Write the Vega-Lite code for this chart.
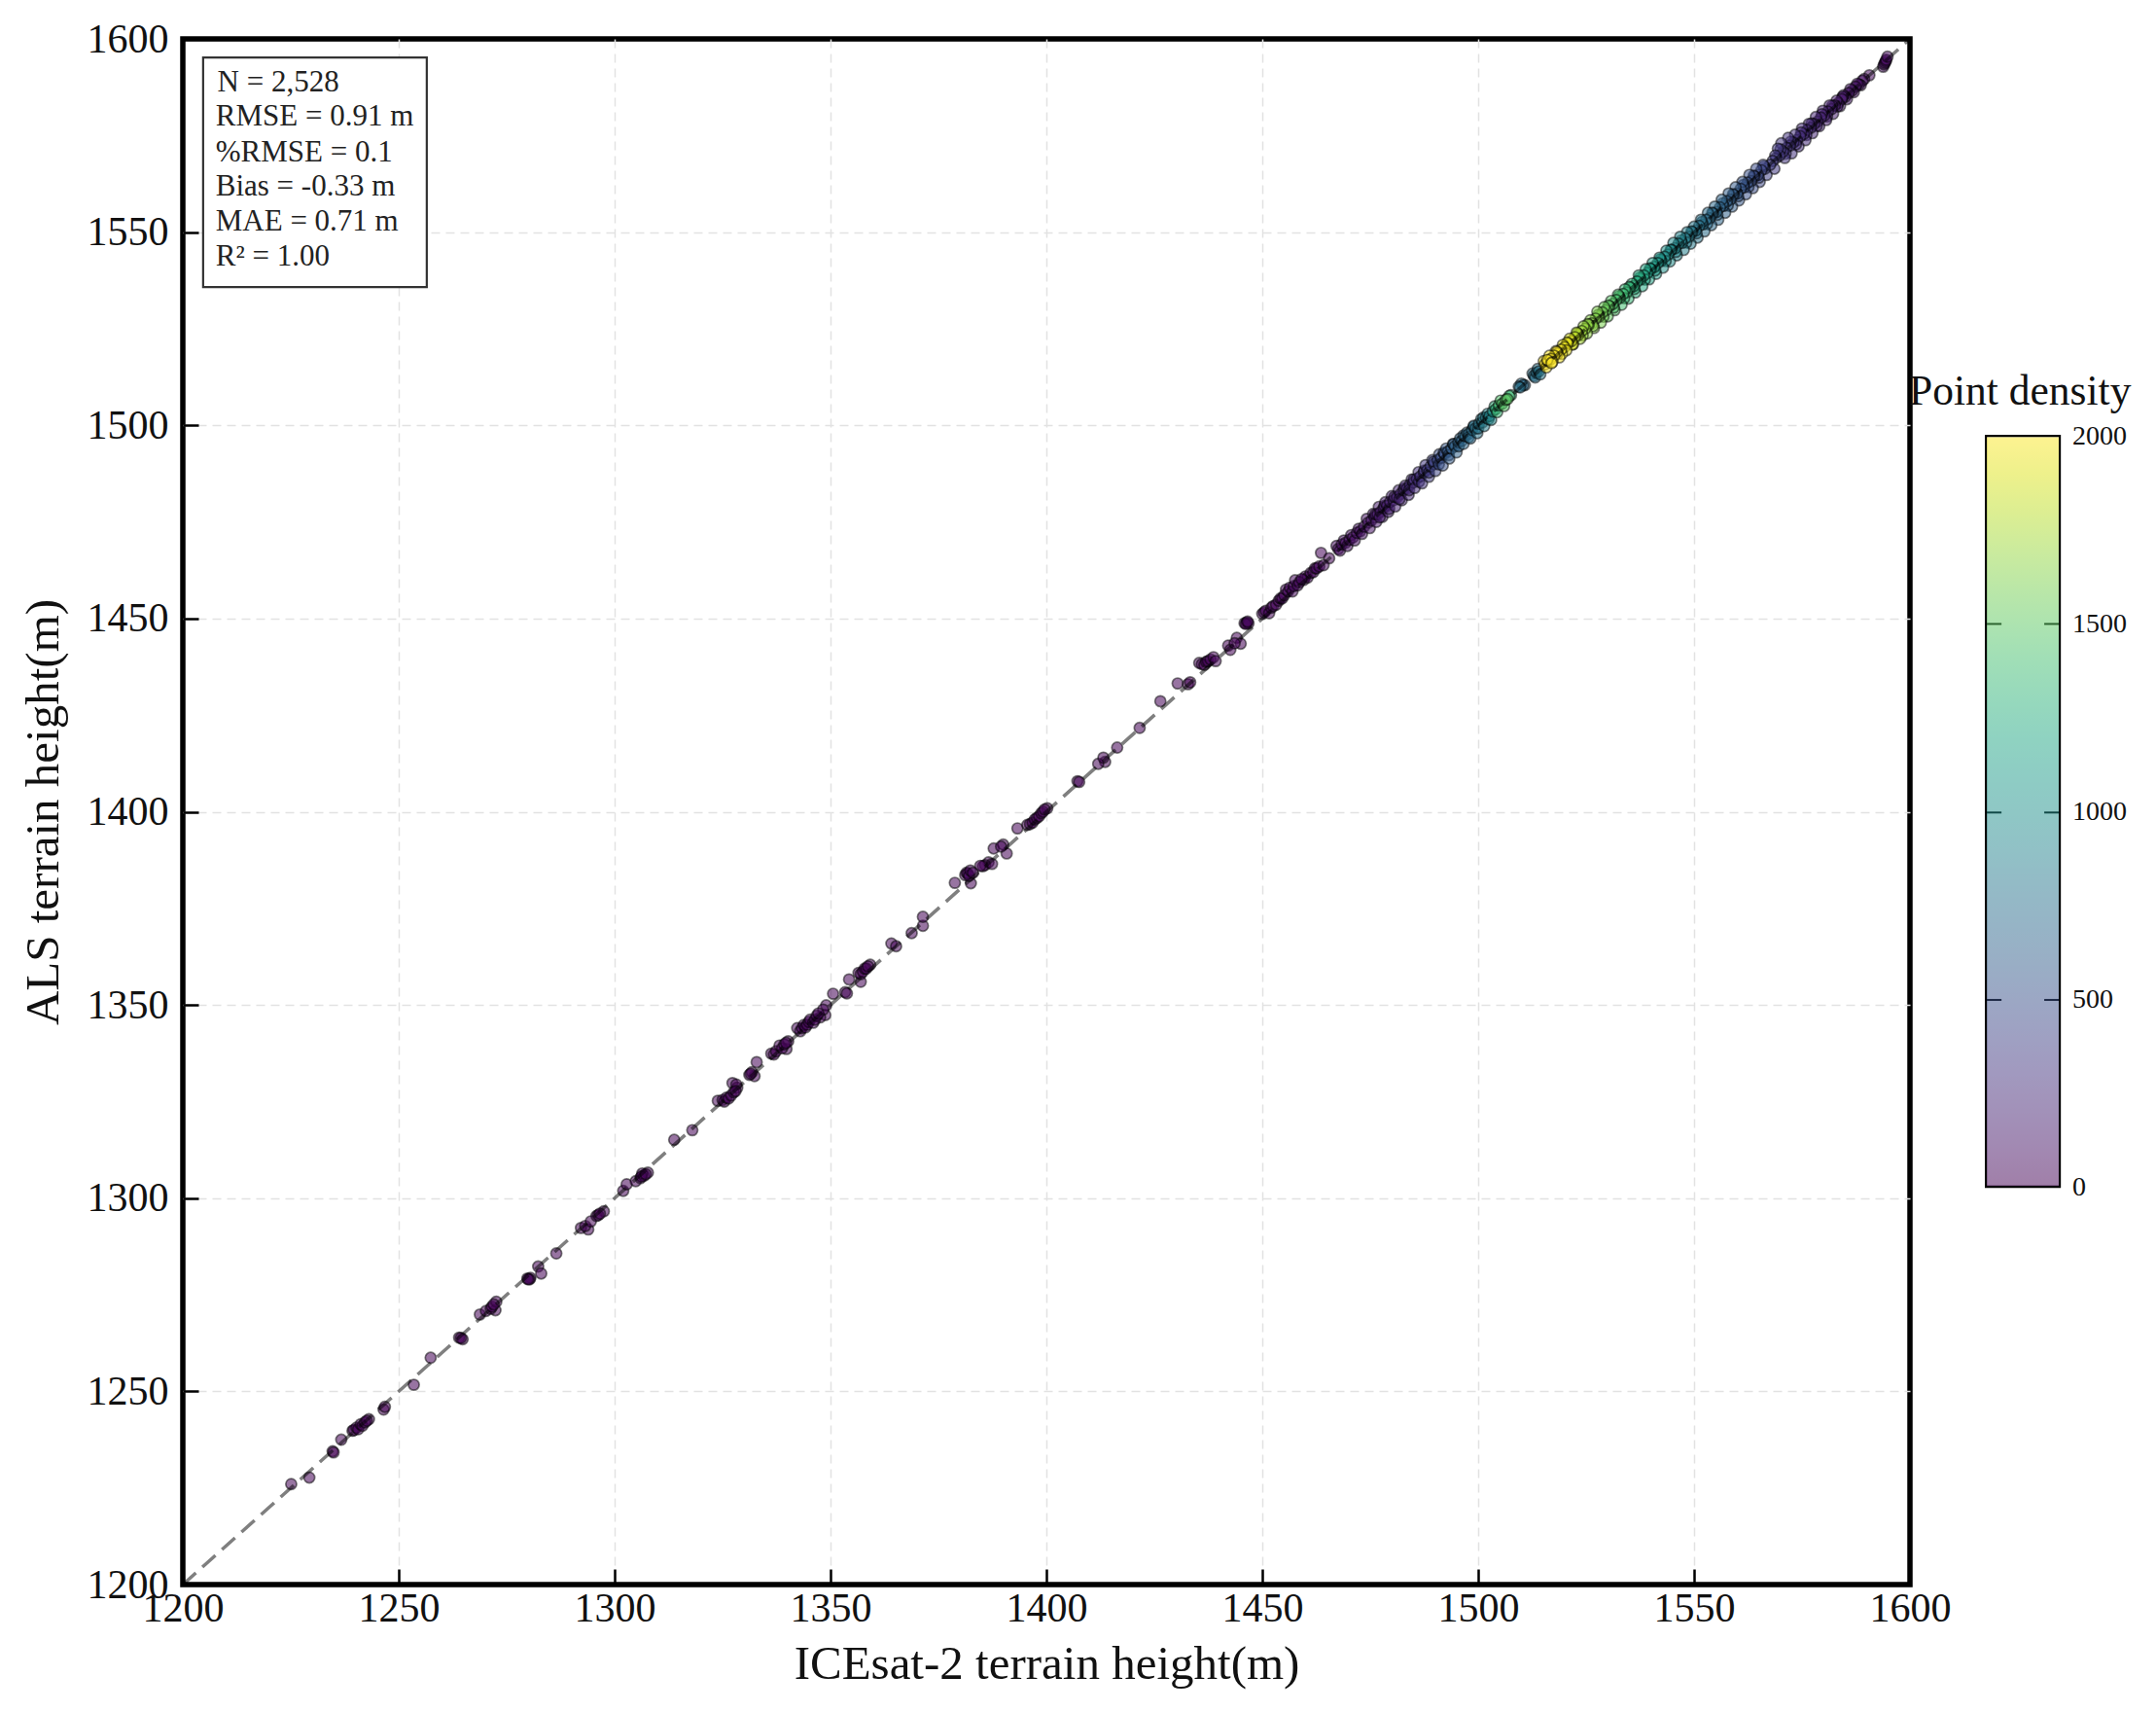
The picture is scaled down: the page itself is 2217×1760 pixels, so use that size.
{
"$schema":"https://vega.github.io/schema/vega-lite/v6.json",
"width":1776,"height":1589,
"autosize":{"type":"none"},
"padding":{"left":188,"top":40,"right":253,"bottom":131},
"background":"white",
"view":{"stroke":"#000000","strokeWidth":5.5,"fill":"white"},
"datasets":{
"pts":[
{"x":1225.1,"y":1226.0,"d":8},{"x":1229.3,"y":1227.7,"d":3},{"x":1234.7,"y":1234.5,"d":12},{"x":1234.9,"y":1234.2,"d":12},{"x":1236.7,"y":1237.5,"d":3},{"x":1239.3,"y":1239.8,"d":20},{"x":1239.6,"y":1240.0,"d":20},{"x":1240.2,"y":1240.6,"d":20},{"x":1240.6,"y":1240.2,"d":20},{"x":1241.2,"y":1241.5,"d":25},{"x":1241.6,"y":1241.1,"d":25},{"x":1242.2,"y":1242.0,"d":25},{"x":1242.6,"y":1242.4,"d":25},{"x":1243.1,"y":1242.8,"d":20},{"x":1246.5,"y":1245.3,"d":12},{"x":1246.8,"y":1246.0,"d":12},{"x":1253.5,"y":1251.7,"d":3},{"x":1257.4,"y":1258.7,"d":3},{"x":1264.0,"y":1263.9,"d":15},{"x":1264.8,"y":1263.5,"d":15},{"x":1264.4,"y":1263.8,"d":15},{"x":1268.8,"y":1269.9,"d":3},{"x":1270.2,"y":1270.8,"d":5},{"x":1271.3,"y":1271.4,"d":15},{"x":1271.6,"y":1271.9,"d":15},{"x":1272.0,"y":1272.5,"d":20},{"x":1272.6,"y":1273.2,"d":15},{"x":1272.4,"y":1271.0,"d":5},{"x":1279.8,"y":1279.2,"d":30},{"x":1280.3,"y":1279.0,"d":30},{"x":1280.5,"y":1279.4,"d":25},{"x":1280.0,"y":1279.0,"d":30},{"x":1282.3,"y":1282.3,"d":3},{"x":1283.0,"y":1280.5,"d":3},{"x":1286.5,"y":1285.7,"d":3},{"x":1292.2,"y":1292.3,"d":10},{"x":1293.9,"y":1291.9,"d":5},{"x":1293.2,"y":1292.8,"d":10},{"x":1294.5,"y":1294.0,"d":12},{"x":1295.8,"y":1295.4,"d":12},{"x":1296.2,"y":1295.6,"d":12},{"x":1296.6,"y":1296.0,"d":12},{"x":1297.5,"y":1296.6,"d":10},{"x":1302.0,"y":1301.9,"d":3},{"x":1302.8,"y":1303.6,"d":3},{"x":1304.9,"y":1304.4,"d":3},{"x":1306.0,"y":1305.2,"d":25},{"x":1306.8,"y":1305.8,"d":25},{"x":1307.7,"y":1306.6,"d":25},{"x":1306.4,"y":1306.4,"d":25},{"x":1306.2,"y":1305.6,"d":25},{"x":1307.2,"y":1306.2,"d":25},
{"x":1313.8,"y":1315.1,"d":3},{"x":1318.0,"y":1317.6,"d":3},{"x":1323.9,"y":1325.2,"d":20},{"x":1325.0,"y":1325.4,"d":20},{"x":1325.4,"y":1325.0,"d":20},{"x":1325.9,"y":1326.0,"d":20},{"x":1326.4,"y":1325.8,"d":20},{"x":1327.0,"y":1326.6,"d":20},{"x":1327.6,"y":1327.4,"d":20},{"x":1328.0,"y":1327.7,"d":20},{"x":1327.3,"y":1329.8,"d":8},{"x":1328.4,"y":1328.6,"d":12},{"x":1328.2,"y":1329.4,"d":12},{"x":1331.2,"y":1331.9,"d":20},{"x":1331.8,"y":1332.6,"d":20},{"x":1331.5,"y":1332.2,"d":20},{"x":1332.4,"y":1331.6,"d":15},{"x":1332.9,"y":1335.2,"d":3},{"x":1336.3,"y":1337.4,"d":15},{"x":1336.9,"y":1337.2,"d":15},{"x":1337.4,"y":1338.0,"d":18},{"x":1338.2,"y":1339.5,"d":18},{"x":1338.8,"y":1338.8,"d":18},{"x":1339.3,"y":1339.8,"d":20},{"x":1339.7,"y":1340.2,"d":20},{"x":1340.2,"y":1340.6,"d":15},{"x":1339.8,"y":1338.6,"d":8},{"x":1342.3,"y":1344.0,"d":25},{"x":1343.0,"y":1343.2,"d":25},{"x":1343.4,"y":1344.0,"d":25},{"x":1343.8,"y":1344.8,"d":25},{"x":1344.2,"y":1344.2,"d":25},{"x":1344.6,"y":1344.9,"d":30},{"x":1345.0,"y":1345.6,"d":30},{"x":1345.3,"y":1346.2,"d":30},{"x":1346.0,"y":1345.4,"d":30},{"x":1346.4,"y":1346.2,"d":30},{"x":1346.8,"y":1347.2,"d":30},{"x":1347.2,"y":1347.8,"d":30},{"x":1347.6,"y":1346.8,"d":20},{"x":1348.3,"y":1348.8,"d":20},{"x":1349.0,"y":1349.9,"d":8},{"x":1348.8,"y":1347.4,"d":5},{"x":1350.6,"y":1352.9,"d":3},{"x":1353.4,"y":1353.3,"d":10},{"x":1353.8,"y":1353.0,"d":10},{"x":1354.3,"y":1356.6,"d":3},{"x":1357.0,"y":1356.0,"d":3},{"x":1356.5,"y":1358.3,"d":20},{"x":1357.0,"y":1358.0,"d":20},{"x":1357.5,"y":1358.6,"d":20},{"x":1357.9,"y":1359.4,"d":20},{"x":1358.3,"y":1359.4,"d":20},{"x":1358.7,"y":1360.0,"d":20},{"x":1359.2,"y":1360.4,"d":15},{"x":1364.1,"y":1365.9,"d":3},{"x":1365.2,"y":1365.2,"d":10},{"x":1368.8,"y":1368.6,"d":3},{"x":1371.4,"y":1370.5,"d":3},{"x":1371.4,"y":1372.8,"d":3},{"x":1378.8,"y":1381.6,"d":3},{"x":1381.2,"y":1383.6,"d":30},{"x":1381.5,"y":1384.2,"d":30},{"x":1381.8,"y":1384.0,"d":35},{"x":1382.1,"y":1383.4,"d":35},{"x":1382.4,"y":1384.8,"d":35},{"x":1383.0,"y":1384.2,"d":35},{"x":1382.5,"y":1381.5,"d":3},{"x":1384.7,"y":1386.0,"d":20},{"x":1385.8,"y":1386.2,"d":18},{"x":1385.3,"y":1385.9,"d":18},{"x":1387.4,"y":1386.5,"d":18},{"x":1386.6,"y":1386.9,"d":15},{"x":1387.8,"y":1390.5,"d":3},{"x":1390.0,"y":1391.5,"d":8},{"x":1390.8,"y":1389.2,"d":3},{"x":1389.5,"y":1391.0,"d":8},{"x":1393.3,"y":1395.7,"d":3},{"x":1395.6,"y":1396.6,"d":15},{"x":1396.2,"y":1396.8,"d":15},{"x":1396.8,"y":1397.2,"d":15},{"x":1397.3,"y":1398.0,"d":15},{"x":1397.8,"y":1398.4,"d":15},{"x":1398.3,"y":1398.8,"d":15},{"x":1398.8,"y":1399.6,"d":20},{"x":1399.2,"y":1400.0,"d":20},{"x":1399.6,"y":1400.6,"d":20},{"x":1400.2,"y":1400.9,"d":15},{"x":1407.2,"y":1407.9,"d":10},{"x":1407.6,"y":1407.7,"d":10},{"x":1412.0,"y":1412.4,"d":10},{"x":1413.2,"y":1414.0,"d":10},{"x":1413.6,"y":1412.9,"d":5},{"x":1416.4,"y":1416.6,"d":3},{"x":1421.6,"y":1421.7,"d":3},{"x":1426.4,"y":1428.6,"d":3},{"x":1430.4,"y":1433.2,"d":3},{"x":1433.3,"y":1433.5,"d":12},{"x":1432.8,"y":1433.0,"d":10},{"x":1435.4,"y":1438.5,"d":20},{"x":1436.0,"y":1438.2,"d":20},{"x":1436.6,"y":1438.0,"d":22},{"x":1437.0,"y":1438.8,"d":22},{"x":1437.4,"y":1439.0,"d":25},{"x":1438.0,"y":1439.4,"d":25},{"x":1438.7,"y":1440.0,"d":25},{"x":1439.2,"y":1439.0,"d":25},{"x":1442.1,"y":1443.0,"d":3},{"x":1444.1,"y":1445.0,"d":3},{"x":1442.6,"y":1441.9,"d":3},{"x":1445.0,"y":1443.5,"d":3},{"x":1443.6,"y":1443.6,"d":3},{"x":1445.9,"y":1448.8,"d":35},{"x":1446.4,"y":1449.0,"d":35},{"x":1446.8,"y":1448.7,"d":35},{"x":1446.2,"y":1448.6,"d":35},{"x":1446.6,"y":1449.2,"d":35},
{"x":1450.0,"y":1451.2,"d":25},{"x":1450.4,"y":1451.6,"d":25},{"x":1450.8,"y":1452.0,"d":25},{"x":1451.6,"y":1451.4,"d":25},{"x":1452.1,"y":1452.8,"d":30},{"x":1452.5,"y":1453.2,"d":30},{"x":1453.2,"y":1453.6,"d":30},{"x":1453.8,"y":1454.6,"d":30},{"x":1454.2,"y":1455.2,"d":30},{"x":1454.6,"y":1455.2,"d":35},{"x":1455.1,"y":1456.0,"d":35},{"x":1455.5,"y":1457.5,"d":35},{"x":1456.0,"y":1457.0,"d":40},{"x":1456.4,"y":1458.0,"d":40},{"x":1457.0,"y":1457.0,"d":40},{"x":1457.3,"y":1458.4,"d":40},{"x":1457.6,"y":1459.9,"d":40},{"x":1458.2,"y":1458.6,"d":40},{"x":1458.6,"y":1459.4,"d":40},{"x":1459.1,"y":1460.2,"d":40},{"x":1459.6,"y":1460.0,"d":35},{"x":1460.0,"y":1460.9,"d":35},{"x":1460.5,"y":1460.6,"d":35},{"x":1461.2,"y":1461.8,"d":35},{"x":1461.8,"y":1462.0,"d":35},{"x":1462.2,"y":1463.0,"d":35},{"x":1462.6,"y":1463.0,"d":40},{"x":1463.2,"y":1463.5,"d":40},{"x":1463.6,"y":1467.0,"d":3},{"x":1464.2,"y":1463.8,"d":40},{"x":1465.5,"y":1465.6,"d":10},
{"x":1467.2,"y":1468.8,"d":60},{"x":1467.6,"y":1468.0,"d":60},{"x":1468.0,"y":1467.6,"d":60},{"x":1468.4,"y":1469.2,"d":65},{"x":1468.9,"y":1470.2,"d":70},{"x":1469.3,"y":1469.6,"d":70},{"x":1469.7,"y":1468.8,"d":70},{"x":1470.2,"y":1470.4,"d":75},{"x":1470.6,"y":1471.6,"d":80},{"x":1471.0,"y":1471.0,"d":80},{"x":1471.4,"y":1470.2,"d":80},{"x":1471.9,"y":1472.2,"d":85},{"x":1472.3,"y":1473.2,"d":90},{"x":1472.7,"y":1472.6,"d":90},{"x":1473.1,"y":1471.9,"d":90},{"x":1473.6,"y":1473.8,"d":100},{"x":1474.2,"y":1475.8,"d":110},{"x":1474.5,"y":1474.8,"d":110},{"x":1474.9,"y":1473.4,"d":110},{"x":1475.3,"y":1475.4,"d":120},{"x":1475.7,"y":1477.1,"d":130},{"x":1476.0,"y":1476.2,"d":130},{"x":1476.4,"y":1475.0,"d":130},{"x":1476.7,"y":1477.0,"d":140},{"x":1477.0,"y":1478.9,"d":150},{"x":1477.4,"y":1477.6,"d":150},{"x":1477.8,"y":1476.3,"d":150},{"x":1478.1,"y":1478.6,"d":160},{"x":1478.5,"y":1480.1,"d":170},{"x":1478.9,"y":1479.2,"d":170},{"x":1479.2,"y":1477.6,"d":170},{"x":1479.6,"y":1480.2,"d":180},{"x":1480.0,"y":1481.7,"d":190},{"x":1480.4,"y":1480.6,"d":190},{"x":1480.8,"y":1479.0,"d":190},{"x":1481.2,"y":1481.4,"d":200},{"x":1481.6,"y":1483.2,"d":210},{"x":1482.0,"y":1482.2,"d":210},{"x":1482.3,"y":1480.6,"d":210},{"x":1482.7,"y":1483.2,"d":220},{"x":1483.1,"y":1484.4,"d":230},{"x":1483.5,"y":1483.6,"d":230},{"x":1483.9,"y":1482.0,"d":230},{"x":1484.2,"y":1484.6,"d":240},{"x":1484.6,"y":1486.0,"d":250},{"x":1485.0,"y":1485.2,"d":255},{"x":1485.3,"y":1483.8,"d":260},{"x":1485.8,"y":1486.2,"d":270},{"x":1486.2,"y":1487.9,"d":280},{"x":1486.6,"y":1486.8,"d":290},{"x":1487.0,"y":1485.0,"d":300},{"x":1487.4,"y":1487.8,"d":320},{"x":1487.8,"y":1489.7,"d":340},{"x":1488.2,"y":1488.4,"d":350},{"x":1488.6,"y":1486.7,"d":360},{"x":1489.0,"y":1489.4,"d":380},{"x":1489.4,"y":1491.0,"d":400},{"x":1489.8,"y":1490.0,"d":410},{"x":1490.1,"y":1488.2,"d":420},{"x":1490.6,"y":1491.0,"d":450},{"x":1491.0,"y":1492.5,"d":480},{"x":1491.4,"y":1491.6,"d":490},{"x":1491.8,"y":1489.6,"d":500},{"x":1492.2,"y":1492.6,"d":530},{"x":1492.6,"y":1494.0,"d":560},{"x":1493.0,"y":1493.2,"d":570},{"x":1493.3,"y":1491.4,"d":580},{"x":1493.8,"y":1494.0,"d":600},{"x":1494.2,"y":1495.2,"d":620},{"x":1494.6,"y":1494.6,"d":630},{"x":1495.0,"y":1493.0,"d":640},{"x":1495.4,"y":1495.6,"d":650},{"x":1495.8,"y":1496.6,"d":660},{"x":1496.2,"y":1496.0,"d":670},{"x":1496.6,"y":1495.2,"d":680},{"x":1497.0,"y":1497.2,"d":690},{"x":1497.4,"y":1498.1,"d":700},{"x":1497.8,"y":1497.8,"d":710},{"x":1498.2,"y":1496.6,"d":720},{"x":1498.6,"y":1498.8,"d":740},{"x":1499.0,"y":1499.9,"d":760},{"x":1499.4,"y":1499.2,"d":770},{"x":1499.8,"y":1498.0,"d":780},{"x":1500.2,"y":1500.4,"d":800},{"x":1500.7,"y":1501.6,"d":820},{"x":1501.0,"y":1500.8,"d":830},{"x":1501.4,"y":1499.8,"d":850},{"x":1501.8,"y":1502.0,"d":880},{"x":1502.2,"y":1503.0,"d":900},{"x":1502.6,"y":1502.4,"d":920},{"x":1503.0,"y":1501.4,"d":950},{"x":1503.4,"y":1503.6,"d":1100},{"x":1503.8,"y":1504.9,"d":1300},{"x":1504.1,"y":1504.2,"d":1320},{"x":1504.4,"y":1503.4,"d":1350},{"x":1504.8,"y":1505.2,"d":1400},{"x":1505.2,"y":1506.4,"d":1450},{"x":1505.6,"y":1505.6,"d":1470},{"x":1506.0,"y":1505.0,"d":1480},{"x":1506.4,"y":1506.6,"d":1500},{"x":1506.8,"y":1506.8,"d":1500},{"x":1507.2,"y":1507.6,"d":1400},{"x":1507.6,"y":1507.8,"d":1300},{"x":1509.4,"y":1510.0,"d":750},{"x":1509.7,"y":1509.8,"d":750},{"x":1510.0,"y":1510.8,"d":720},{"x":1510.4,"y":1510.4,"d":720},{"x":1510.8,"y":1510.4,"d":700},{"x":1512.6,"y":1513.4,"d":750},{"x":1512.9,"y":1512.8,"d":750},{"x":1513.2,"y":1512.4,"d":760},{"x":1513.5,"y":1513.6,"d":770},{"x":1513.8,"y":1514.6,"d":780},{"x":1514.1,"y":1514.0,"d":790},{"x":1514.4,"y":1513.2,"d":800},
{"x":1515.2,"y":1516.6,"d":2000},{"x":1515.5,"y":1515.8,"d":2000},{"x":1515.8,"y":1515.0,"d":2000},{"x":1516.2,"y":1516.6,"d":2000},{"x":1516.5,"y":1518.0,"d":2000},{"x":1516.9,"y":1517.2,"d":2000},{"x":1517.2,"y":1516.4,"d":2000},{"x":1517.6,"y":1518.0,"d":1990},{"x":1518.0,"y":1519.2,"d":1980},{"x":1518.4,"y":1518.6,"d":1980},{"x":1518.8,"y":1517.6,"d":1980},{"x":1519.2,"y":1519.6,"d":1960},{"x":1519.6,"y":1520.8,"d":1950},{"x":1520.0,"y":1520.2,"d":1950},{"x":1520.4,"y":1519.4,"d":1950},{"x":1520.8,"y":1521.2,"d":1920},{"x":1521.2,"y":1522.4,"d":1900},{"x":1521.6,"y":1521.8,"d":1890},{"x":1522.0,"y":1521.0,"d":1880},{"x":1522.4,"y":1522.8,"d":1830},{"x":1522.8,"y":1524.0,"d":1780},{"x":1523.2,"y":1523.4,"d":1760},{"x":1523.6,"y":1522.4,"d":1750},{"x":1524.0,"y":1524.4,"d":1720},{"x":1524.4,"y":1525.6,"d":1700},{"x":1524.8,"y":1525.0,"d":1690},{"x":1525.2,"y":1523.8,"d":1680},{"x":1525.6,"y":1526.0,"d":1660},{"x":1526.0,"y":1527.2,"d":1650},{"x":1526.4,"y":1526.4,"d":1650},{"x":1526.8,"y":1525.2,"d":1650},{"x":1527.2,"y":1527.6,"d":1630},{"x":1527.6,"y":1529.4,"d":1620},{"x":1528.0,"y":1528.2,"d":1610},{"x":1528.4,"y":1526.6,"d":1600},{"x":1528.8,"y":1529.2,"d":1580},{"x":1529.2,"y":1530.6,"d":1560},{"x":1529.6,"y":1529.8,"d":1540},{"x":1530.0,"y":1528.2,"d":1520},{"x":1530.4,"y":1530.8,"d":1500},{"x":1530.8,"y":1532.2,"d":1480},{"x":1531.2,"y":1531.4,"d":1460},{"x":1531.6,"y":1529.8,"d":1450},{"x":1532.0,"y":1532.4,"d":1430},{"x":1532.4,"y":1533.8,"d":1420},{"x":1532.8,"y":1533.0,"d":1410},{"x":1533.2,"y":1531.2,"d":1400},{"x":1533.6,"y":1534.0,"d":1380},{"x":1534.0,"y":1535.2,"d":1360},{"x":1534.4,"y":1534.4,"d":1350},{"x":1534.8,"y":1532.8,"d":1340},{"x":1535.2,"y":1535.6,"d":1320},{"x":1535.6,"y":1536.6,"d":1300},{"x":1536.0,"y":1536.0,"d":1280},{"x":1536.4,"y":1534.4,"d":1270},{"x":1536.8,"y":1537.2,"d":1250},{"x":1537.2,"y":1538.8,"d":1240},{"x":1537.6,"y":1537.8,"d":1230},{"x":1538.0,"y":1536.0,"d":1220},{"x":1538.4,"y":1538.8,"d":1200},{"x":1538.8,"y":1540.4,"d":1180},{"x":1539.2,"y":1539.4,"d":1160},{"x":1539.6,"y":1537.8,"d":1150},{"x":1540.0,"y":1540.4,"d":1130},{"x":1540.4,"y":1542.0,"d":1120},{"x":1540.8,"y":1541.0,"d":1110},{"x":1541.2,"y":1539.2,"d":1100},{"x":1541.6,"y":1542.0,"d":1080},{"x":1542.0,"y":1543.4,"d":1060},{"x":1542.4,"y":1542.6,"d":1040},{"x":1542.8,"y":1540.8,"d":1030},{"x":1543.2,"y":1543.6,"d":1010},{"x":1543.6,"y":1545.2,"d":1000},{"x":1544.0,"y":1544.2,"d":990},{"x":1544.4,"y":1542.4,"d":980},{"x":1544.8,"y":1545.4,"d":960},{"x":1545.2,"y":1547.2,"d":950},{"x":1545.6,"y":1545.8,"d":930},{"x":1546.0,"y":1544.0,"d":920},{"x":1546.4,"y":1547.0,"d":910},{"x":1546.8,"y":1548.8,"d":900},{"x":1547.2,"y":1547.2,"d":880},{"x":1547.6,"y":1545.4,"d":870},{"x":1548.0,"y":1548.4,"d":860},{"x":1548.4,"y":1550.0,"d":850},{"x":1548.8,"y":1548.8,"d":840},{"x":1549.2,"y":1547.0,"d":830},{"x":1549.6,"y":1550.0,"d":810},{"x":1550.0,"y":1551.4,"d":800},{"x":1550.4,"y":1550.4,"d":790},{"x":1550.8,"y":1548.6,"d":780},{"x":1551.2,"y":1551.6,"d":770},{"x":1551.6,"y":1553.2,"d":760},{"x":1552.0,"y":1552.0,"d":750},{"x":1552.4,"y":1550.2,"d":740},{"x":1552.8,"y":1553.2,"d":730},{"x":1553.2,"y":1555.0,"d":720},{"x":1553.6,"y":1553.6,"d":710},{"x":1554.0,"y":1551.8,"d":700},{"x":1554.4,"y":1554.8,"d":695},{"x":1554.8,"y":1556.6,"d":690},{"x":1555.2,"y":1555.2,"d":680},{"x":1555.6,"y":1553.2,"d":670},{"x":1556.0,"y":1556.4,"d":660},{"x":1556.4,"y":1558.4,"d":650},{"x":1556.8,"y":1556.8,"d":640},{"x":1557.2,"y":1555.0,"d":630},{"x":1557.6,"y":1558.0,"d":620},{"x":1558.0,"y":1560.0,"d":610},{"x":1558.4,"y":1558.4,"d":605},{"x":1558.8,"y":1556.6,"d":600},{"x":1559.2,"y":1559.6,"d":590},{"x":1559.6,"y":1561.6,"d":580},{"x":1560.0,"y":1560.0,"d":570},{"x":1560.4,"y":1558.2,"d":560},{"x":1560.8,"y":1561.2,"d":550},{"x":1561.2,"y":1563.0,"d":540},{"x":1561.6,"y":1561.6,"d":530},{"x":1562.0,"y":1559.8,"d":520},{"x":1562.4,"y":1562.8,"d":510},{"x":1562.8,"y":1564.8,"d":500},{"x":1563.2,"y":1563.2,"d":490},{"x":1563.6,"y":1561.4,"d":480},{"x":1564.0,"y":1564.4,"d":470},{"x":1564.4,"y":1566.4,"d":460},{"x":1564.8,"y":1564.8,"d":450},{"x":1565.2,"y":1563.0,"d":440},{"x":1565.6,"y":1566.0,"d":430},{"x":1566.0,"y":1567.4,"d":420},{"x":1566.4,"y":1566.4,"d":410},{"x":1566.8,"y":1564.8,"d":400},{"x":1567.6,"y":1567.4,"d":370},{"x":1568.2,"y":1568.4,"d":350},{"x":1568.6,"y":1566.4,"d":340},{"x":1569.0,"y":1569.2,"d":340},{"x":1569.4,"y":1571.6,"d":340},{"x":1569.8,"y":1569.8,"d":330},{"x":1570.2,"y":1573.0,"d":320},{"x":1570.6,"y":1570.8,"d":315},{"x":1571.0,"y":1569.2,"d":310},{"x":1571.4,"y":1571.8,"d":305},{"x":1571.8,"y":1574.4,"d":300},{"x":1572.2,"y":1572.4,"d":295},{"x":1572.6,"y":1570.4,"d":290},{"x":1573.0,"y":1573.2,"d":285},{"x":1573.4,"y":1575.2,"d":280},{"x":1573.8,"y":1573.8,"d":275},{"x":1574.2,"y":1572.2,"d":270},{"x":1574.6,"y":1574.8,"d":265},{"x":1575.0,"y":1576.8,"d":260},{"x":1575.4,"y":1575.4,"d":255},{"x":1575.8,"y":1573.8,"d":250},{"x":1576.2,"y":1576.4,"d":245},{"x":1576.6,"y":1578.0,"d":240},{"x":1577.0,"y":1577.0,"d":235},{"x":1577.4,"y":1575.6,"d":230},{"x":1577.8,"y":1578.0,"d":225},{"x":1578.2,"y":1579.8,"d":220},{"x":1578.6,"y":1578.6,"d":215},{"x":1579.0,"y":1577.4,"d":210},{"x":1579.4,"y":1579.6,"d":205},{"x":1579.8,"y":1581.4,"d":200},{"x":1580.2,"y":1580.2,"d":195},{"x":1580.6,"y":1579.0,"d":190},{"x":1581.0,"y":1581.2,"d":185},{"x":1581.4,"y":1582.8,"d":180},{"x":1581.8,"y":1581.8,"d":175},{"x":1582.2,"y":1580.6,"d":170},{"x":1582.6,"y":1582.8,"d":165},{"x":1583.0,"y":1584.0,"d":160},{"x":1583.4,"y":1583.4,"d":155},{"x":1583.8,"y":1582.6,"d":150},{"x":1584.2,"y":1584.4,"d":145},{"x":1584.6,"y":1585.4,"d":140},{"x":1585.0,"y":1585.0,"d":135},{"x":1585.4,"y":1584.4,"d":130},{"x":1585.8,"y":1586.0,"d":125},{"x":1586.2,"y":1587.0,"d":120},{"x":1586.6,"y":1586.6,"d":115},{"x":1587.0,"y":1586.2,"d":110},{"x":1587.4,"y":1587.6,"d":105},{"x":1587.8,"y":1588.4,"d":100},{"x":1588.2,"y":1588.2,"d":95},{"x":1588.6,"y":1588.0,"d":90},{"x":1589.0,"y":1589.2,"d":85},{"x":1589.4,"y":1589.6,"d":80},{"x":1590.6,"y":1590.6,"d":40},{"x":1593.8,"y":1592.8,"d":60},{"x":1594.0,"y":1593.4,"d":60},{"x":1594.2,"y":1593.8,"d":60},{"x":1594.4,"y":1594.2,"d":60},{"x":1594.5,"y":1594.6,"d":60},{"x":1594.8,"y":1595.4,"d":60},
{"x":1476.2,"y":1477.0,"d":130},{"x":1477.2,"y":1476.2,"d":150},{"x":1478.3,"y":1479.2,"d":160},{"x":1479.4,"y":1478.4,"d":175},{"x":1480.6,"y":1481.5,"d":190},{"x":1481.8,"y":1480.9,"d":210},{"x":1482.9,"y":1483.7,"d":225},{"x":1484.0,"y":1483.2,"d":240},{"x":1485.1,"y":1486.0,"d":255},{"x":1486.3,"y":1485.4,"d":280},{"x":1487.5,"y":1488.3,"d":320},{"x":1488.6,"y":1487.8,"d":360},{"x":1489.7,"y":1490.6,"d":410},{"x":1490.9,"y":1489.9,"d":470},{"x":1492.0,"y":1492.9,"d":520},{"x":1493.2,"y":1492.3,"d":575},{"x":1494.3,"y":1495.1,"d":620},{"x":1495.5,"y":1494.6,"d":650},{"x":1496.6,"y":1497.4,"d":680},{"x":1497.8,"y":1496.9,"d":710},{"x":1498.9,"y":1499.6,"d":750},{"x":1500.0,"y":1499.2,"d":790},{"x":1501.2,"y":1502.0,"d":840},{"x":1502.4,"y":1501.6,"d":910},
{"x":1516.0,"y":1516.9,"d":2000},{"x":1517.0,"y":1516.1,"d":2000},{"x":1518.2,"y":1519.0,"d":1980},{"x":1519.4,"y":1518.5,"d":1955},{"x":1520.6,"y":1521.4,"d":1930},{"x":1521.8,"y":1520.9,"d":1885},{"x":1523.0,"y":1523.8,"d":1770},{"x":1524.2,"y":1523.3,"d":1710},{"x":1525.4,"y":1526.2,"d":1670},{"x":1526.6,"y":1525.7,"d":1650},{"x":1527.8,"y":1528.6,"d":1615},{"x":1529.0,"y":1528.1,"d":1570},{"x":1530.2,"y":1531.0,"d":1510},{"x":1531.4,"y":1530.5,"d":1455},{"x":1532.6,"y":1533.4,"d":1415},{"x":1533.8,"y":1532.9,"d":1370},{"x":1535.0,"y":1535.8,"d":1330},{"x":1536.2,"y":1535.3,"d":1275},{"x":1537.4,"y":1538.2,"d":1235},{"x":1538.6,"y":1537.7,"d":1190},{"x":1539.8,"y":1540.6,"d":1140},{"x":1541.0,"y":1540.1,"d":1105},{"x":1542.2,"y":1543.0,"d":1050},{"x":1543.4,"y":1542.5,"d":1005},{"x":1544.6,"y":1545.4,"d":970},{"x":1545.8,"y":1544.9,"d":925},{"x":1547.0,"y":1547.8,"d":890},{"x":1548.2,"y":1547.3,"d":855},{"x":1549.4,"y":1550.2,"d":820},{"x":1550.6,"y":1549.7,"d":785},{"x":1551.8,"y":1552.6,"d":755},{"x":1553.0,"y":1552.1,"d":725},{"x":1554.2,"y":1555.0,"d":698},{"x":1555.4,"y":1554.5,"d":675},{"x":1556.6,"y":1557.4,"d":645},{"x":1557.8,"y":1556.9,"d":615},{"x":1559.0,"y":1559.8,"d":595},{"x":1560.2,"y":1559.3,"d":565},{"x":1561.4,"y":1562.2,"d":535},{"x":1562.6,"y":1561.7,"d":505},{"x":1563.8,"y":1564.6,"d":475},{"x":1565.0,"y":1564.1,"d":445},{"x":1566.2,"y":1567.0,"d":415},{"x":1568.8,"y":1569.8,"d":340},{"x":1570.0,"y":1571.4,"d":325},{"x":1571.2,"y":1570.3,"d":308},{"x":1572.4,"y":1573.4,"d":292},{"x":1573.6,"y":1572.7,"d":278},{"x":1574.8,"y":1575.8,"d":262},{"x":1576.0,"y":1575.1,"d":248},{"x":1577.2,"y":1578.1,"d":232},{"x":1578.4,"y":1577.5,"d":218},{"x":1579.6,"y":1580.5,"d":202},{"x":1580.8,"y":1579.9,"d":188},{"x":1582.0,"y":1582.7,"d":172},{"x":1583.2,"y":1582.5,"d":158},{"x":1584.4,"y":1585.0,"d":142}
],
"stats":[
{"x":1208,"y":1588.7,"label":"N = 2,528"},
{"x":1207.6,"y":1579.9,"label":"RMSE = 0.91 m"},
{"x":1207.6,"y":1570.5,"label":"%RMSE = 0.1"},
{"x":1207.6,"y":1561.7,"label":"Bias = -0.33 m"},
{"x":1207.6,"y":1552.7,"label":"MAE = 0.71 m"},
{"x":1207.6,"y":1543.6,"label":"R² = 1.00"}
],
"ticks":[
{"x":1617.6,"x2":1621.2,"y":1351.3},{"x":1617.6,"x2":1621.2,"y":1399.8},{"x":1617.6,"x2":1621.2,"y":1448.6},
{"x":1631.1,"x2":1634.7,"y":1351.3},{"x":1631.1,"x2":1634.7,"y":1399.8},{"x":1631.1,"x2":1634.7,"y":1448.6}
]
},
"encoding":{
"x":{"field":"x","type":"quantitative","scale":{"domain":[1200,1600],"nice":false,"zero":false},"title":"ICEsat-2 terrain height(m)",
"axis":{"values":[1200,1250,1300,1350,1400,1450,1500,1550,1600],"format":"d","domain":false,"tickSize":-16,"tickWidth":2.5,"tickColor":"#000000","grid":true,"gridColor":"#e2e2e2","gridWidth":1.5,"gridDash":[9,6],"gridOpacity":{"condition":{"test":"datum.value == 1200 || datum.value == 1600","value":0},"value":1},"labelFont":"Liberation Serif","labelFontSize":42,"labelColor":"#111111","labelPadding":20,"labelFlush":false,"labelOverlap":false,"titleFont":"Liberation Serif","titleFontSize":49,"titleFontWeight":"normal","titleColor":"#111111","titlePadding":12}},
"y":{"field":"y","type":"quantitative","scale":{"domain":[1200,1600],"nice":false,"zero":false},"title":"ALS terrain height(m)",
"axis":{"values":[1200,1250,1300,1350,1400,1450,1500,1550,1600],"format":"d","domain":false,"tickSize":-16,"tickWidth":2.5,"tickColor":"#000000","grid":true,"gridColor":"#e2e2e2","gridWidth":1.5,"gridDash":[9,6],"gridOpacity":{"condition":{"test":"datum.value == 1200 || datum.value == 1600","value":0},"value":1},"labelFont":"Liberation Serif","labelFontSize":42,"labelColor":"#111111","labelPadding":31,"labelFlush":false,"labelOverlap":false,"titleFont":"Liberation Serif","titleFontSize":49,"titleFontWeight":"normal","titleColor":"#111111","titlePadding":20}}
},
"layer":[
{"data":{"name":"pts"},
"mark":{"type":"circle","size":125,"fillOpacity":0.55,"stroke":"#000000","strokeOpacity":0.5,"strokeWidth":1.7},
"encoding":{
"fill":{"field":"d","type":"quantitative","scale":{"scheme":"viridis","domain":[0,2000]},
"legend":{"title":"Point density","orient":"none","legendX":1775,"legendY":342,"padding":0,"values":[0,500,1000,1500,2000],"format":"d","gradientLength":772,"gradientThickness":76,"gradientOpacity":0.5,"gradientStrokeColor":"#000000","gradientStrokeWidth":2,"labelFont":"Liberation Serif","labelFontSize":28,"labelColor":"#111111","labelOffset":13,"titleFont":"Liberation Serif","titleFontSize":43.5,"titleFontWeight":"normal","titleColor":"#111111","titlePadding":23,"titleLimit":400,
"encode":{"labels":{"update":{"baseline":{"value":"middle"}}},"title":{"update":{"dx":{"value":-79}}}}}},
"order":{"field":"d","type":"quantitative"}}},
{"data":{"values":[{"x":1200,"y":1200},{"x":1600,"y":1600}]},
"mark":{"type":"line","stroke":"#000000","strokeOpacity":0.5,"strokeWidth":3.5,"strokeDash":[18,9]}},
{"data":{"values":[{"x":1204.7,"x2":1256.5,"y":1595.2,"y2":1535.8}]},
"mark":{"type":"rect","fill":"white","stroke":"#333333","strokeWidth":2.2},
"encoding":{"x2":{"field":"x2"},"y2":{"field":"y2"}}},
{"data":{"name":"stats"},
"mark":{"type":"text","align":"left","baseline":"middle","font":"Liberation Serif","fontSize":31,"color":"#222222"},
"encoding":{"text":{"field":"label"}}},
{"data":{"name":"ticks"},
"mark":{"type":"rule","stroke":"#000000","strokeWidth":2},
"encoding":{"x2":{"field":"x2"}}},
{"data":{"values":[{"x":1617.6,"x2":1634.7,"y":1497.3,"y2":1303}]},
"mark":{"type":"rect","fillOpacity":0,"stroke":"#000000","strokeWidth":2.2},
"encoding":{"x2":{"field":"x2"},"y2":{"field":"y2"}}}
]
}
